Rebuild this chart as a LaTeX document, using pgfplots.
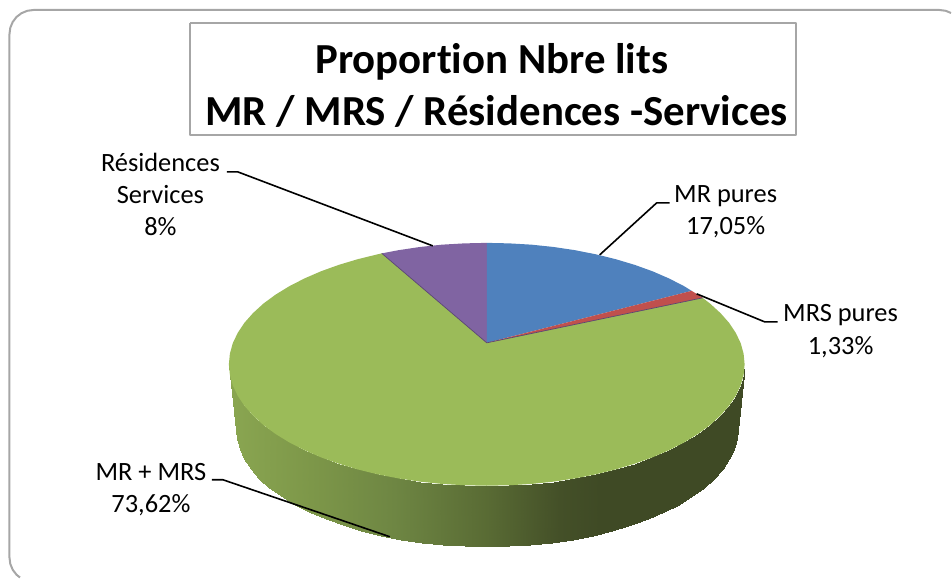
\documentclass[border=0pt]{standalone}
\usepackage{pgfplots}
\pgfplotsset{compat=1.18}
\usepackage{fontspec}
\setmainfont[Ligatures=NoCommon]{Carlito}

\definecolor{mrblue}{HTML}{4F81BD}
\definecolor{mrsred}{HTML}{C0504D}
\definecolor{mixgreen}{HTML}{9BBB59}
\definecolor{respurple}{HTML}{8064A2}
\definecolor{framegray}{HTML}{A6A6A6}

\newcommand{\lab}{\fontsize{26.5}{32}\selectfont}
\newcommand{\ttl}{\fontsize{43}{52}\selectfont\bfseries}

\begin{document}
\begin{tikzpicture}
\begin{axis}[
  scale only axis, width=952bp, height=578bp,
  xmin=0, xmax=952, ymin=0, ymax=578, y dir=reverse,
  hide axis, clip=false,
  every axis plot/.append style={line join=round},
  % side of the pie, light on the left, dark towards the right
  colormap={sidegreen}{
    rgb255(0)=(138,166,81); rgb255(16)=(125,151,73); rgb255(32)=(110,134,67);
    rgb255(50)=(89,107,52); rgb255(64)=(68,80,40); rgb255(72)=(63,74,37); rgb255(100)=(63,74,37)},
  point meta min=229, point meta max=745,
]
% keeps the page at the full size of the axis
\addplot[draw=none] coordinates {(0,0) (952,578)};
% outer frame, runs off the right and the bottom of the picture
\addplot[draw=framegray, line width=2bp] coordinates {
  (20,577.8) (16.5,575) (12.7,570) (10.3,564.2) (9.5,558) (9.5,34) (10.3,27.8) (12.7,22) (16.5,17) (21.5,13.2) (27.3,10.8) (33.5,10)
  (940,10) (946.2,10.8) (951.5,13)};
% side: upper rim, then lower rim, left to right
\addplot[surf, shader=interp, mesh/rows=2, mesh/cols=37, point meta=x] coordinates {
  (229,364.5) (230,375.1) (232.9,385.6) (237.8,395.9) (244.6,406.1) (253.2,415.8) (263.6,425.3) (275.7,434.2) (289.4,442.6) (304.6,450.4) (321.2,457.6) (339,464) (358,469.7) (378,474.6) (398.8,478.7) (420.2,481.9) (442.2,484.2) (464.5,485.5) (487,486)
  (509.5,485.5) (531.8,484.2) (553.8,481.9) (575.2,478.7) (596,474.6) (616,469.7) (635,464) (652.8,457.6) (669.4,450.4) (684.6,442.6) (698.3,434.2) (710.4,425.3) (720.8,415.8) (729.4,406.1) (736.2,395.9) (741.1,385.6) (744,375.1) (745,364.5)

  (236,429) (237,439.3) (239.8,449.5) (244.6,459.5) (251.1,469.4) (259.5,478.9) (269.6,488) (281.4,496.7) (294.7,504.8) (309.5,512.4) (325.7,519.4) (343,525.7) (361.5,531.2) (380.9,535.9) (401.2,539.9) (422,543) (443.4,545.2) (465.1,546.6) (487,547)
  (508.9,546.6) (530.6,545.2) (552,543) (572.8,539.9) (593.1,535.9) (612.5,531.2) (631,525.7) (648.3,519.4) (664.5,512.4) (679.3,504.8) (692.6,496.7) (704.4,488) (714.5,478.9) (722.9,469.4) (729.4,459.5) (734.2,449.5) (737,439.3) (738,429)};
% MR + MRS
\addplot[fill=mixgreen, draw=none] coordinates {
  (487,343) (703,298) (710.4,303.7) (720.8,313.2) (729.4,322.9) (736.2,333.1) (741.1,343.4) (744,353.9) (745,364.5)
  (744,375.1) (741.1,385.6) (736.2,395.9) (729.4,406.1) (720.8,415.8) (710.4,425.3) (698.3,434.2) (684.6,442.6) (669.4,450.4) (652.8,457.6) (635,464) (616,469.7) (596,474.6) (575.2,478.7) (553.8,481.9) (531.8,484.2) (509.5,485.5) (487,486)
  (464.5,485.5) (442.2,484.2) (420.2,481.9) (398.8,478.7) (378,474.6) (358,469.7) (339,464) (321.2,457.6) (304.6,450.4) (289.4,442.6) (275.7,434.2) (263.6,425.3) (253.2,415.8) (244.6,406.1) (237.8,395.9) (232.9,385.6) (230,375.1) (229,364.5)
  (230,353.9) (232.9,343.4) (237.8,333.1) (244.6,322.9) (253.2,313.2) (263.6,303.7) (275.7,294.8) (289.4,286.4) (304.6,278.6) (321.2,271.4) (339,265) (358,259.3) (378,254.4) (382,253.5) (487,343)};
% Residences Services
\addplot[fill=respurple, draw=none] coordinates {
  (487,343) (382,253.5) (398.8,250.3) (420.2,247.1) (442.2,244.8) (464.5,243.5) (487,243) (487,343)};
% MR pures
\addplot[fill=mrblue, draw=none] coordinates {
  (487,343) (487,243) (509.5,243.5) (531.8,244.8) (553.8,247.1) (575.2,250.3) (596,254.4) (616,259.3) (635,265) (652.8,271.4) (669.4,278.6) (684.6,286.4) (692,291) (487,343)};
% MRS pures
\addplot[fill=mrsred, draw=none] coordinates {
  (487,343) (692,291) (698.3,294.8) (703,298) (487,343)};
% thin dark seams
\addplot[draw=respurple!70!black, line width=0.7bp] coordinates {(382,253.5) (487,343) (703,298)};
% title box
\addplot[draw=framegray, line width=2bp, fill=white] coordinates {
  (190,23.5) (796,23.5) (796,135) (190,135) (190,23.5)};
% leaders
\addplot[black, line width=1.6bp] coordinates {(227,172) (238,172) (433,246)};
\addplot[black, line width=1.6bp] coordinates {(670,203) (657,203) (600,255)};
\addplot[black, line width=1.6bp] coordinates {(697,294) (765,322) (778,322)};
\addplot[black, line width=1.6bp] coordinates {(212,480) (223,480) (390,537)};
% title
\node[anchor=base, font=\ttl] at (axis cs:492,74) {Proportion Nbre lits};
\node[anchor=base, font=\ttl] at (axis cs:497,126) {MR / MRS / Résidences -Services};
% labels
\node[anchor=base, font=\lab] at (axis cs:160.5,172) {Résidences};
\node[anchor=base, font=\lab] at (axis cs:160.5,204) {Services};
\node[anchor=base, font=\lab] at (axis cs:160.5,236) {8\%};
\node[anchor=base, font=\lab] at (axis cs:726,203) {MR pures};
\node[anchor=base, font=\lab] at (axis cs:726,235) {17,05\%};
\node[anchor=base, font=\lab] at (axis cs:841,322) {MRS pures};
\node[anchor=base, font=\lab] at (axis cs:841,355) {1,33\%};
\node[anchor=base, font=\lab] at (axis cs:151,481) {MR + MRS};
\node[anchor=base, font=\lab] at (axis cs:151,513) {73,62\%};
\end{axis}
\end{tikzpicture}
\end{document}
